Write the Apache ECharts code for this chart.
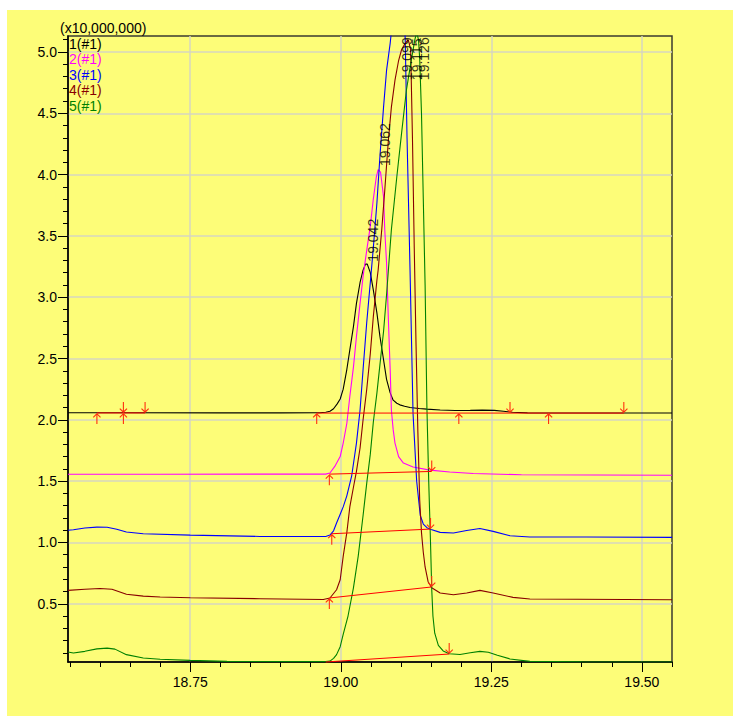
<!DOCTYPE html>
<html><head><meta charset="utf-8">
<script src="https://cdn.jsdelivr.net/npm/echarts@6/dist/echarts.min.js"></script>
<style>html,body{margin:0;padding:0;background:#fff}#c{width:733px;height:720px}</style>
</head><body><div id="c"></div>
<script>
// ---------------- data ----------------
const traceNames = ['1(#1)', '2(#1)', '3(#1)', '4(#1)', '5(#1)'];
const yUnitLabel = '(x10,000,000)';

const trace1 = [[18.547,2.058],[18.650,2.058],[18.800,2.057],[18.900,2.057],[18.965,2.058],[18.975,2.062],[18.982,2.070],[18.988,2.09],[18.994,2.13],[18.999,2.17],[19.004,2.25],[19.010,2.41],[19.015,2.57],[19.021,2.76],[19.026,2.95],[19.032,3.12],[19.037,3.22],[19.041,3.27],[19.044,3.27],[19.049,3.20],[19.054,3.06],[19.060,2.87],[19.065,2.68],[19.071,2.49],[19.076,2.33],[19.082,2.22],[19.087,2.16],[19.093,2.135],[19.098,2.122],[19.106,2.11],[19.115,2.10],[19.130,2.092],[19.143,2.087],[19.165,2.080],[19.190,2.076],[19.215,2.077],[19.235,2.079],[19.255,2.077],[19.270,2.070],[19.285,2.062],[19.310,2.057],[19.400,2.056],[19.550,2.056]];

const trace2 = [[18.547,1.556],[18.700,1.556],[18.900,1.557],[18.975,1.557],[18.982,1.566],[18.990,1.62],[18.999,1.70],[19.004,1.81],[19.010,1.97],[19.015,2.19],[19.021,2.43],[19.026,2.68],[19.032,2.95],[19.037,3.17],[19.043,3.38],[19.049,3.58],[19.054,3.80],[19.059,3.98],[19.062,4.04],[19.066,4.02],[19.071,3.82],[19.073,3.55],[19.076,3.28],[19.079,2.82],[19.082,2.41],[19.084,2.08],[19.087,1.92],[19.090,1.81],[19.096,1.70],[19.104,1.647],[19.120,1.615],[19.148,1.59],[19.181,1.574],[19.220,1.562],[19.300,1.552],[19.550,1.548]];

const trace3 = [[18.547,1.100],[18.556,1.104],[18.575,1.118],[18.595,1.125],[18.612,1.124],[18.628,1.108],[18.644,1.085],[18.672,1.071],[18.750,1.060],[18.866,1.049],[18.975,1.049],[18.982,1.060],[18.988,1.095],[18.993,1.158],[18.999,1.23],[19.004,1.29],[19.010,1.38],[19.018,1.54],[19.026,1.81],[19.032,2.08],[19.037,2.41],[19.043,2.79],[19.049,3.12],[19.054,3.40],[19.060,3.77],[19.065,4.15],[19.071,4.55],[19.076,4.85],[19.082,5.07],[19.090,5.45],[19.099,5.70],[19.104,5.55],[19.107,5.10],[19.110,4.30],[19.115,3.22],[19.120,2.05],[19.126,1.50],[19.132,1.22],[19.137,1.15],[19.143,1.12],[19.150,1.105],[19.165,1.082],[19.187,1.077],[19.209,1.098],[19.231,1.114],[19.253,1.090],[19.281,1.055],[19.314,1.044],[19.408,1.044],[19.550,1.041]];

const trace4 = [[18.547,0.609],[18.575,0.618],[18.600,0.625],[18.620,0.618],[18.644,0.578],[18.672,0.562],[18.700,0.555],[18.750,0.549],[18.866,0.541],[18.971,0.535],[18.982,0.547],[18.993,0.614],[18.999,0.696],[19.004,0.886],[19.010,1.08],[19.015,1.29],[19.021,1.45],[19.026,1.58],[19.032,1.77],[19.037,2.0],[19.043,2.245],[19.049,2.54],[19.054,2.84],[19.060,3.14],[19.062,3.22],[19.068,3.55],[19.073,3.87],[19.079,4.28],[19.084,4.55],[19.090,4.77],[19.096,4.93],[19.101,5.02],[19.107,5.07],[19.112,5.10],[19.116,5.02],[19.119,4.30],[19.122,3.40],[19.125,2.6],[19.128,1.9],[19.131,1.35],[19.134,1.08],[19.137,0.92],[19.140,0.80],[19.145,0.68],[19.151,0.630],[19.165,0.588],[19.187,0.574],[19.209,0.588],[19.231,0.609],[19.253,0.588],[19.286,0.552],[19.314,0.539],[19.550,0.533]];

const trace5 = [[18.547,0.107],[18.556,0.099],[18.575,0.112],[18.595,0.132],[18.612,0.138],[18.625,0.130],[18.644,0.085],[18.672,0.058],[18.700,0.048],[18.750,0.038],[18.811,0.030],[18.900,0.028],[18.975,0.028],[18.982,0.032],[18.988,0.055],[18.993,0.085],[18.999,0.15],[19.004,0.25],[19.012,0.40],[19.021,0.63],[19.029,0.89],[19.037,1.22],[19.043,1.48],[19.049,1.72],[19.054,1.98],[19.060,2.22],[19.065,2.45],[19.071,2.72],[19.076,3.02],[19.084,3.55],[19.093,3.98],[19.101,4.34],[19.109,4.69],[19.118,4.96],[19.123,5.10],[19.126,5.16],[19.129,5.10],[19.131,4.95],[19.134,4.50],[19.137,3.80],[19.140,3.10],[19.143,2.10],[19.146,1.50],[19.149,1.00],[19.151,0.62],[19.153,0.40],[19.156,0.26],[19.162,0.16],[19.170,0.115],[19.180,0.092],[19.198,0.086],[19.215,0.100],[19.231,0.112],[19.245,0.104],[19.260,0.080],[19.281,0.050],[19.314,0.030],[19.400,0.026],[19.550,0.025]];

// integration baselines: points and marker kinds
const base1a = [[18.595,2.056],[18.639,2.056],[18.675,2.056]];
const kinds1a = ['up','both','down'];
const base1b = [[18.960,2.055],[19.196,2.055],[19.281,2.055],[19.345,2.055],[19.470,2.055]];
const kinds1b = ['up','up','down','up','down'];
const base2 = [[18.981,1.557],[19.151,1.579]];
const kinds2 = ['up','down'];
const base3 = [[18.985,1.071],[19.149,1.109]];
const kinds3 = ['up','down'];
const base4 = [[18.981,0.547],[19.151,0.637]];
const kinds4 = ['up','down'];
const base5 = [[18.975,0.025],[19.180,0.090]];
const kinds5 = ['none','down'];

// peak retention-time labels
const peakTimes = [19.042, 19.062, 19.099, 19.115, 19.126];
const peakLabelLevels = [3.29, 4.07, 4.77, 4.77, 4.77];

// axis ticks
const xMajorTicks = [18.75, 19.00, 19.25, 19.50];
const xMinorTicks = [18.55,18.60,18.65,18.70,18.75,18.80,18.85,18.90,18.95,19.00,19.05,19.10,19.15,19.20,19.25,19.30,19.35,19.40,19.45,19.50,19.55];
const yMajorTicks = [0.5,1.0,1.5,2.0,2.5,3.0,3.5,4.0,4.5,5.0];
const yMinorTicks = [0.1,0.2,0.3,0.4,0.5,0.6,0.7,0.8,0.9,1.0,1.1,1.2,1.3,1.4,1.5,1.6,1.7,1.8,1.9,2.0,2.1,2.2,2.3,2.4,2.5,2.6,2.7,2.8,2.9,3.0,3.1,3.2,3.3,3.4,3.5,3.6,3.7,3.8,3.9,4.0,4.1,4.2,4.3,4.4,4.5,4.6,4.7,4.8,4.9,5.0,5.1];
const xRange = [18.547, 19.55];
const yRange = [0.025, 5.13];

// ---------------- styles ----------------
const traceColors = ['#000000', '#ff00ff', '#0000ff', '#880000', '#008000'];
const FONT = "'Liberation Sans', Arial, sans-serif";
const arrowUp = 'path://M4,0 L8,4 L7.2,4.8 L4.55,2.15 L4.55,11 L3.45,11 L3.45,2.15 L0.8,4.8 L0,4 Z';
const arrowDown = 'path://M4,11 L8,7 L7.2,6.2 L4.55,8.85 L4.55,0 L3.45,0 L3.45,8.85 L0.8,6.2 L0,7 Z';
const arrowBoth = 'path://M4,11 L8,7 L7.2,6.2 L4.55,8.85 L4.55,0 L3.45,0 L3.45,8.85 L0.8,6.2 L0,7 Z M4,11 L8,15 L7.2,15.8 L4.55,13.15 L4.55,22 L3.45,22 L3.45,13.15 L0.8,15.8 L0,15 Z';

function markerItem(pt, kind) {
  if (kind === 'up') return {value: pt, symbol: arrowUp, symbolSize: [8, 11], symbolOffset: [0, 5.5]};
  if (kind === 'down') return {value: pt, symbol: arrowDown, symbolSize: [8, 11], symbolOffset: [0, -5.5]};
  if (kind === 'both') return {value: pt, symbol: arrowBoth, symbolSize: [8, 22]};
  return {value: pt, symbol: 'none'};
}
function baselineSeries(pts, kinds) {
  return {
    type: 'line', data: pts.map((p, i) => markerItem(p, kinds[i])),
    showSymbol: true, lineStyle: {color: '#ff0000', width: 1},
    itemStyle: {color: '#ff3010'}, z: 5, silent: true, clip: false
  };
}

const traces = [trace1, trace2, trace3, trace4, trace5];
const series = traces.map((t, i) => ({
  type: 'line', name: traceNames[i], data: t, showSymbol: false, smooth: false,
  lineStyle: {color: traceColors[i], width: 1.1}, itemStyle: {color: traceColors[i]},
  z: 2, silent: true
}));
series.push(baselineSeries(base1a, kinds1a));
series.push(baselineSeries(base1b, kinds1b));
series.push(baselineSeries(base2, kinds2));
series.push(baselineSeries(base3, kinds3));
series.push(baselineSeries(base4, kinds4));
series.push(baselineSeries(base5, kinds5));
series.push({
  type: 'scatter', data: peakTimes.map((t, i) => [t, peakLabelLevels[i]]),
  symbolSize: 0, z: 6, silent: true, clip: false,
  label: {
    show: true, position: 'inside', rotate: 90, align: 'left', verticalAlign: 'top',
    formatter: p => peakTimes[p.dataIndex].toFixed(3),
    fontSize: 14, fontFamily: FONT, color: '#000'
  }
});

const graphic = [
  {type: 'rect', z: -100, silent: true, shape: {x: 7, y: 10, width: 726, height: 706}, style: {fill: '#fdfd78'}},
  {type: 'text', x: 60, y: 28, silent: true, style: {text: yUnitLabel, fontSize: 14, fontFamily: FONT, fill: '#000', verticalAlign: 'middle'}}
];
traceNames.forEach((n, i) => graphic.push({
  type: 'text', x: 69, y: 43.5 + i * 15.6, silent: true, z: 10,
  style: {text: n, fontSize: 14, fontFamily: FONT, fill: traceColors[i], verticalAlign: 'middle'}
}));

const gridLine = {show: true, lineStyle: {color: '#d6d6c0', width: 1.5}};
const option = {
  animation: false,
  backgroundColor: '#ffffff',
  grid: {left: 68, top: 36, width: 604, height: 626, show: true, borderColor: '#3a3a30', borderWidth: 1.5,
         backgroundColor: 'transparent', containLabel: false, outerBoundsMode: 'none'},
  xAxis: [
    {type: 'value', min: xRange[0], max: xRange[1], position: 'bottom',
     axisLine: {show: true, lineStyle: {color: '#000', width: 1.5}},
     axisTick: {show: true, customValues: xMajorTicks, length: 10, lineStyle: {color: '#000', width: 1}},
     axisLabel: {show: true, customValues: xMajorTicks, formatter: v => v.toFixed(2), fontSize: 14, fontFamily: FONT, color: '#000', margin: 13},
     splitLine: gridLine},
    {type: 'value', min: xRange[0], max: xRange[1], position: 'bottom',
     axisLine: {show: false},
     axisTick: {show: true, customValues: xMinorTicks, length: 5, lineStyle: {color: '#000', width: 1}},
     axisLabel: {show: false}, splitLine: {show: false}}
  ],
  yAxis: [
    {type: 'value', min: yRange[0], max: yRange[1], position: 'left',
     axisLine: {show: true, lineStyle: {color: '#000', width: 1.5}},
     axisTick: {show: true, customValues: yMajorTicks, length: 10, lineStyle: {color: '#000', width: 1}},
     axisLabel: {show: true, customValues: yMajorTicks, formatter: v => v.toFixed(1), fontSize: 14, fontFamily: FONT, color: '#000', margin: 11},
     splitLine: gridLine},
    {type: 'value', min: yRange[0], max: yRange[1], position: 'left',
     axisLine: {show: false},
     axisTick: {show: true, customValues: yMinorTicks, length: 5, lineStyle: {color: '#000', width: 1}},
     axisLabel: {show: false}, splitLine: {show: false}}
  ],
  graphic: graphic,
  series: series
};
const chart = echarts.init(document.getElementById('c'), null, {renderer: 'svg', width: 733, height: 720});
chart.setOption(option);
</script>
</body></html>
